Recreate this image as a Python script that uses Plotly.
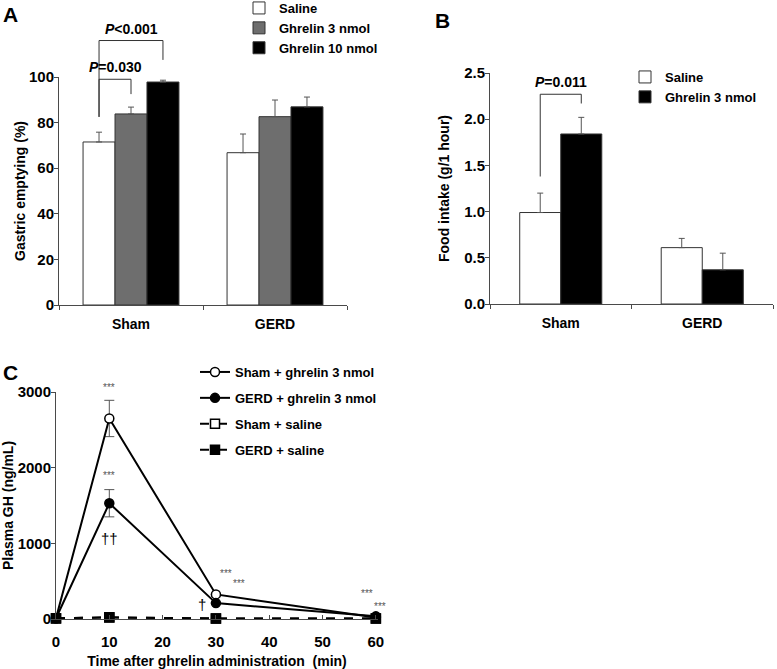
import plotly.graph_objects as go

W, H = 777, 669

# ---- data ----
groups = ["Sham", "GERD"]

# panel A: gastric emptying (%)
ge_names = ["Saline", "Ghrelin 3 nmol", "Ghrelin 10 nmol"]
ge_mean = [[71.5, 66.8], [83.8, 82.6], [97.8, 86.9]]
ge_err = [[4.3, 8.2], [3.0, 7.3], [0.8, 4.3]]

# panel B: food intake (g/1 hour)
fi_names = ["Saline", "Ghrelin 3 nmol"]
fi_mean = [[0.99, 0.61], [1.84, 0.37]]
fi_err = [[0.21, 0.10], [0.18, 0.18]]

# panel C: plasma GH (ng/mL)
minutes = [0, 10, 30, 60]
gh_names = ["Sham + ghrelin 3 nmol", "GERD + ghrelin 3 nmol", "Sham + saline", "GERD + saline"]
gh_mean = [
    [10, 2650, 325, 20],
    [10, 1530, 210, 35],
    [10, 20, 8, 8],
    [8, 22, 6, 6],
]
gh_err = [
    [0, 240, 0, 0],
    [0, 180, 0, 0],
    [0, 0, 0, 0],
    [0, 0, 0, 0],
]

# ---- layout in pixels ----
A_X, A_Y = (59, 347), (305, 77)
B_X, B_Y = (490, 773), (304, 73)
C_X, C_Y = (56, 378), (619, 392)

def xdom(p):
    return [p[0] / W, p[1] / W]

def ydom(p):
    return [1 - p[0] / H, 1 - p[1] / H]

def px(v, rng, pix):
    return pix[0] + (v - rng[0]) / (rng[1] - rng[0]) * (pix[1] - pix[0])

FONT = "Liberation Sans, Arial, sans-serif"
AXC = "#4a4a4a"

fig = go.Figure()

# A bars
a_colors = ["white", "#6e6e6e", "black"]
a_w = 0.222
for i, name in enumerate(ge_names):
    fig.add_trace(go.Bar(
        x=groups, y=ge_mean[i], name=name, xaxis="x", yaxis="y",
        width=a_w, offset=-1.5 * a_w + i * a_w,
        marker=dict(color=a_colors[i], line=dict(color="#333", width=1)),
        error_y=dict(type="data", array=ge_err[i], arrayminus=[0, 0], symmetric=False,
                     color="#555", thickness=1, width=3),
        legend="legend",
    ))

# B bars
b_colors = ["white", "black"]
b_w = 0.29
for i, name in enumerate(fi_names):
    fig.add_trace(go.Bar(
        x=groups, y=fi_mean[i], name=name, xaxis="x2", yaxis="y2",
        width=b_w, offset=-b_w + i * b_w,
        marker=dict(color=b_colors[i], line=dict(color="#333", width=1)),
        error_y=dict(type="data", array=fi_err[i], arrayminus=[0, 0], symmetric=False,
                     color="#555", thickness=1, width=3),
        legend="legend2",
    ))

# C lines
c_sym = ["circle", "circle", "square", "square"]
c_fill = ["white", "black", "white", "black"]
c_dash = ["solid", "solid", "dash", "dash"]
for i, name in enumerate(gh_names):
    fig.add_trace(go.Scatter(
        x=minutes, y=gh_mean[i], name=name, xaxis="x3", yaxis="y3",
        mode="lines+markers", cliponaxis=False,
        line=dict(color="black", width=2, dash=c_dash[i]),
        marker=dict(symbol=c_sym[i], size=9, color=c_fill[i], line=dict(color="black", width=1.5)),
        error_y=dict(type="data", array=gh_err[i], color="#555", thickness=1, width=5),
        legend="legend3", legendgroup=name,
    ))

catfont = dict(family=FONT, size=14, color="black", weight="bold")
numfont = dict(family=FONT, size=15, color="black", weight="bold")
titlefont = dict(family=FONT, size=14, color="black", weight="bold")
legfont = dict(family=FONT, size=13, color="black", weight="bold")
common = dict(showline=True, linecolor=AXC, linewidth=1, showgrid=False, zeroline=False,
              tickcolor=AXC, ticklen=4, automargin=False)

A_YR, B_YR, C_XR, C_YR = [0, 100], [0, 2.5], [0, 60.4], [0, 3000]

fig.update_layout(
    width=W, height=H, margin=dict(l=0, r=0, t=0, b=0, autoexpand=False),
    paper_bgcolor="white", plot_bgcolor="white",
    barmode="overlay",
    font=dict(family=FONT, color="black"),
    xaxis=dict(domain=xdom(A_X), anchor="y", type="category", range=[-0.5, 1.5],
               ticks="outside", tickson="boundaries", ticklabelstandoff=6,
               tickfont=catfont, **common),
    yaxis=dict(domain=ydom(A_Y), anchor="x", range=A_YR, dtick=20, ticks="outside",
               ticklabelstandoff=-3, tickfont=numfont,
               title=dict(text="Gastric emptying (%)", font=titlefont, standoff=0), **common),
    xaxis2=dict(domain=xdom(B_X), anchor="y2", type="category", range=[-0.5, 1.5],
                ticks="outside", tickson="boundaries", ticklabelstandoff=6,
                tickfont=catfont, **common),
    yaxis2=dict(domain=ydom(B_Y), anchor="x2", range=B_YR, dtick=0.5, tickformat=".1f",
                ticks="outside", ticklabelstandoff=-3, tickfont=numfont,
                title=dict(text="Food intake (g/1 hour)", font=titlefont, standoff=11), **common),
    xaxis3=dict(domain=xdom(C_X), anchor="y3", range=C_XR, dtick=10, ticks="inside",
                ticklabelstandoff=9, tickfont=numfont,
                title=dict(text="Time after ghrelin administration  (min)", font=titlefont, standoff=9),
                **common),
    yaxis3=dict(domain=ydom(C_Y), anchor="x3", range=C_YR, dtick=1000, ticks="outside",
                ticklabelstandoff=-3, tickfont=numfont,
                title=dict(text="Plasma GH (ng/mL)", font=titlefont, standoff=4), **common),
    legend=dict(x=239 / W, y=1 + 7 / H, xanchor="left", yanchor="top", font=legfont,
                bgcolor="rgba(0,0,0,0)", tracegroupgap=0),
    legend2=dict(x=625 / W, y=1 - 62 / H, xanchor="left", yanchor="top", font=legfont,
                 bgcolor="rgba(0,0,0,0)"),
    legend3=dict(x=195 / W, y=1 - 357 / H, xanchor="left", yanchor="top", font=legfont,
                 bgcolor="rgba(0,0,0,0)", tracegroupgap=6),
    showlegend=True,
)

# significance brackets: (x_left, x_right, top, left_bottom, right_bottom, label)
a_brackets = [
    (-a_w, a_w, 116, 82.5, 107.5, "<i>P</i>&lt;0.001"),
    (-a_w, 0, 99, 82.5, 92.5, "<i>P</i>=0.030"),
]
b_brackets = [
    (-b_w / 2, b_w / 2, 2.27, 1.38, 2.17, "<i>P</i>=0.011"),
]

shapes, annos = [], []

def bracket(b, xp, yp, yr):
    x0 = px(b[0], [-0.5, 1.5], xp)
    x1 = px(b[1], [-0.5, 1.5], xp)
    yt = px(b[2], yr, yp)
    pts = [(x0, px(b[3], yr, yp)), (x0, yt), (x1, yt), (x1, px(b[4], yr, yp))]
    for (ax, ay), (bx, by) in zip(pts[:-1], pts[1:]):
        shapes.append(dict(type="line", xref="paper", yref="paper",
                           x0=ax / W, y0=1 - ay / H, x1=bx / W, y1=1 - by / H,
                           line=dict(color="#333", width=1)))
    annos.append(dict(xref="paper", yref="paper", x=(x0 + x1) / 2 / W, y=1 - (yt - 2) / H,
                      text="<b>" + b[5] + "</b>", showarrow=False,
                      xanchor="center", yanchor="bottom",
                      font=dict(family=FONT, size=14, color="black")))

for b in a_brackets:
    bracket(b, A_X, A_Y, A_YR)
for b in b_brackets:
    bracket(b, B_X, B_Y, B_YR)

# panel labels
for lab, x, y in [("A", 10, 15), ("B", 442, 20), ("C", 10, 372)]:
    annos.append(dict(xref="paper", yref="paper", x=x / W, y=1 - y / H, text="<b>" + lab + "</b>",
                      showarrow=False, xanchor="center", yanchor="middle",
                      font=dict(family=FONT, size=21, color="black")))

# panel C significance marks (placed on the C scales)
c_marks = [
    (10, 3060, "***", 10, "#555"),
    (10, 1890, "***", 10, "#555"),
    (10, 1060, "††", 15, "black"),
    (31.8, 600, "***", 10, "#555"),
    (34.4, 470, "***", 10, "#555"),
    (27.4, 190, "†", 15, "black"),
    (58.3, 340, "***", 10, "#555"),
    (60.8, 170, "***", 10, "#555"),
]
for x, y, t, s, c in c_marks:
    annos.append(dict(xref="paper", yref="paper",
                      x=px(x, C_XR, C_X) / W, y=1 - px(y, C_YR, C_Y) / H,
                      text=t, showarrow=False, xanchor="center", yanchor="middle",
                      font=dict(family=FONT, size=s, color=c)))

fig.update_layout(shapes=shapes, annotations=annos)
fig.write_html("out.html", config={"displayModeBar": False},
               post_script="document.body.style.margin = '0px';")
